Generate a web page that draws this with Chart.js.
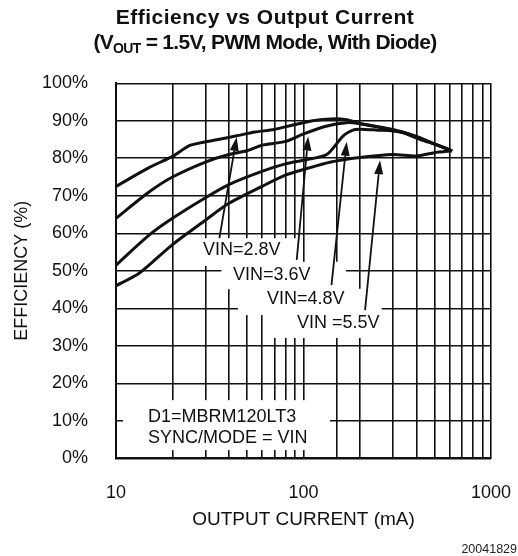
<!DOCTYPE html>
<html>
<head>
<meta charset="utf-8">
<script src="https://cdn.jsdelivr.net/npm/chart.js@4.4.1/dist/chart.umd.min.js"></script>
<style>
  html, body { margin: 0; padding: 0; background: #fff; }
  #wrap { position: relative; width: 518px; height: 556px; font-family: "Liberation Sans", Arial, sans-serif; }
  #title { position: absolute; left: 12px; top: 4px; width: 506px; text-align: center;
           font-weight: bold; font-size: 21px; line-height: 25px; color: #111; }
  #title .l1 { letter-spacing: 0.5px; }
  #title .l2 { letter-spacing: -0.7px; }
  #title sub { font-size: 14px; vertical-align: -4px; line-height: 0; }
  #note { position: absolute; right: 1px; top: 542px; font-size: 12.5px; color: #222; }
  #chart { position: absolute; left: 0; top: 0; }
</style>
</head>
<body>
<div id="wrap">
  <canvas id="chart" width="518" height="556"></canvas>
  <div id="title"><span class="l1">Efficiency vs Output Current</span><br><span class="l2">(V<sub>OUT</sub> = 1.5V, PWM Mode, With Diode)</span></div>
  <div id="note">20041829</div>
</div>
<script>
// ---- data (output current in mA, efficiency in %) ----
const vin28Current = [10, 15, 20, 25, 35, 44, 55, 70, 90, 112, 140, 170, 200, 300, 390, 490, 620];
const vin28Eff     = [72.5, 77.5, 80.5, 83.5, 85, 86, 87, 87.7, 89, 90, 90.5, 90.3, 89.3, 87.7, 86, 84, 82];

const vin36Current = [10, 15, 20, 30, 40, 50, 60, 80, 100, 130, 170, 200, 300, 390, 490, 620];
const vin36Eff     = [64, 71, 75, 79, 81, 82, 83.5, 84.5, 86.5, 88.5, 89.5, 89.2, 87.5, 86, 84, 82];

const vin48Current = [10, 15, 20, 30, 40, 60, 80, 100, 133, 163, 188, 250, 330, 420, 520, 620];
const vin48Eff     = [51.5, 59.5, 64, 69.5, 73, 76.5, 78.5, 79.5, 81, 86, 87.7, 87.5, 87, 85, 83.5, 82];

const vin55Current = [10, 13, 15, 20, 30, 40, 60, 80, 100, 140, 200, 300, 400, 500, 620];
const vin55Eff     = [46, 49, 51.5, 57, 63.5, 68, 72.5, 75.5, 77, 79, 80.2, 81, 80.6, 81.5, 82];

const xTickLabels = [10, 100, 1000];

const toPoints = (xs, ys) => xs.map((x, i) => ({ x, y: ys[i] }));

// ---- annotation text, white boxes and arrows, all in data units ----
const FONT = '18px "Liberation Sans", Arial, sans-serif';
const notes = [
  { text: 'VIN=2.8V',        at: [29.1, 55.5], box: [27.4, 95.6, 51.3, 58.7],  arrow: [[35.6, 58.7], [44, 85.7]] },
  { text: 'VIN=3.6V',        at: [42.1, 48.9], box: [36.5, 168.7, 45.1, 52.4], arrow: [[92, 52.9], [106, 85.8]] },
  { text: 'VIN=4.8V',        at: [63.8, 42.5], box: [44.7, 261.5, 38.2, 45.2], arrow: [[141, 46.2], [170, 84.4]] },
  { text: 'VIN =5.5V',       at: [92.2, 36.2], box: [66.3, 272.6, 32.1, 39.0], arrow: [[213, 39.5], [256, 79.5]] },
  { text: 'D1=MBRM120LT3',   at: [14.8, 11.1], box: [10.9, 138.5, 2.2, 15.5] },
  { text: 'SYNC/MODE = VIN', at: [14.8, 5.5] },
];

const notePlugin = {
  id: 'notes',
  beforeDatasetsDraw(chart) {
    const { ctx, scales: { x, y } } = chart;
    ctx.save();
    ctx.fillStyle = '#fff';
    notes.forEach(n => {
      if (!n.box) return;
      const x1 = x.getPixelForValue(n.box[0]), x2 = x.getPixelForValue(n.box[1]);
      const y1 = y.getPixelForValue(n.box[3]), y2 = y.getPixelForValue(n.box[2]);
      ctx.fillRect(x1, y1, x2 - x1, y2 - y1);
    });
    ctx.fillStyle = '#111';
    ctx.font = FONT;
    ctx.textBaseline = 'middle';
    notes.forEach(n => {
      ctx.fillText(n.text, x.getPixelForValue(n.at[0]), y.getPixelForValue(n.at[1]));
    });
    ctx.restore();
  },
  afterDatasetsDraw(chart) {
    const { ctx, scales: { x, y } } = chart;
    ctx.save();
    ctx.strokeStyle = '#111';
    ctx.fillStyle = '#111';
    ctx.lineWidth = 1.8;
    notes.forEach(n => {
      if (!n.arrow) return;
      const x0 = x.getPixelForValue(n.arrow[0][0]), y0 = y.getPixelForValue(n.arrow[0][1]);
      const x1 = x.getPixelForValue(n.arrow[1][0]), y1 = y.getPixelForValue(n.arrow[1][1]);
      const a = Math.atan2(y1 - y0, x1 - x0);
      const len = 14, half = 4.5;
      ctx.beginPath();
      ctx.moveTo(x0, y0);
      ctx.lineTo(x1 - Math.cos(a) * len, y1 - Math.sin(a) * len);
      ctx.stroke();
      ctx.beginPath();
      ctx.moveTo(x1, y1);
      ctx.lineTo(x1 - Math.cos(a) * len - Math.sin(a) * half, y1 - Math.sin(a) * len + Math.cos(a) * half);
      ctx.lineTo(x1 - Math.cos(a) * len + Math.sin(a) * half, y1 - Math.sin(a) * len - Math.cos(a) * half);
      ctx.closePath();
      ctx.fill();
    });
    ctx.restore();
  }
};

const curve = (label, xs, ys) => ({
  label, data: toPoints(xs, ys),
  borderColor: '#111', borderWidth: 3, pointRadius: 0, tension: 0.25, fill: false,
});

new Chart(document.getElementById('chart'), {
  type: 'line',
  data: {
    datasets: [
      curve('VIN=2.8V', vin28Current, vin28Eff),
      curve('VIN=3.6V', vin36Current, vin36Eff),
      curve('VIN=4.8V', vin48Current, vin48Eff),
      curve('VIN=5.5V', vin55Current, vin55Eff),
    ]
  },
  options: {
    responsive: false, animation: false, devicePixelRatio: 1,
    layout: { padding: { top: 83.3, right: 27, left: 0, bottom: 0 } },
    plugins: { legend: { display: false }, tooltip: { enabled: false } },
    scales: {
      x: {
        type: 'logarithmic', min: 10, max: 1000,
        afterFit: s => { s.height = 97.7; s.paddingLeft = 0; s.paddingRight = 0; },
        grid: { color: '#111', lineWidth: 1.6, drawTicks: false },
        border: { color: '#111', width: 2 },
        ticks: {
          autoSkip: false, maxRotation: 0, padding: 24, color: '#111',
          font: { size: 18, family: '"Liberation Sans", Arial, sans-serif' },
          callback: v => xTickLabels.includes(v) ? String(v) : ''
        },
        title: {
          display: true, text: 'OUTPUT CURRENT (mA)', color: '#111',
          font: { size: 19, family: '"Liberation Sans", Arial, sans-serif' },
          padding: { top: 0, bottom: 25 }
        }
      },
      y: {
        min: 0, max: 100,
        afterFit: s => { s.width = 116; s.paddingTop = 0; s.paddingBottom = 0; },
        grid: { color: '#111', lineWidth: 1.6, drawTicks: false },
        border: { color: '#111', width: 2 },
        ticks: {
          stepSize: 10, padding: 28, color: '#111',
          font: { size: 18, family: '"Liberation Sans", Arial, sans-serif' },
          callback: v => v + '%'
        },
        title: {
          display: true, text: 'EFFICIENCY (%)', color: '#111',
          font: { size: 18, family: '"Liberation Sans", Arial, sans-serif' },
          padding: { top: 11, bottom: 0 }
        }
      }
    }
  },
  plugins: [notePlugin]
});
</script>
</body>
</html>
